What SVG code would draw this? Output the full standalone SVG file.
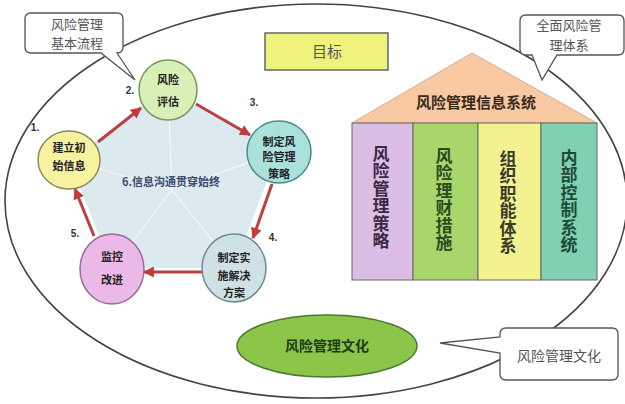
<svg xmlns="http://www.w3.org/2000/svg" width="625" height="404" viewBox="0 0 625 404">
<defs>
<style>
.cjk{font-family:"Noto Sans CJK SC","Noto Sans",sans-serif;}
.ct{font-size:11px;font-weight:bold;fill:#222;text-anchor:middle;}
.num{font-family:"Liberation Sans",sans-serif;font-size:10px;font-weight:bold;fill:#333;text-anchor:middle;}
.call{fill:#fff;stroke:#555;stroke-width:1.3;}
.callt{font-size:13px;fill:#555;text-anchor:middle;}
.col{stroke:#666;stroke-width:1;}
.colt{font-size:17px;font-weight:bold;writing-mode:vertical-rl;letter-spacing:0.5px;}
.arr{stroke:#b94141;stroke-width:3;fill:none;marker-end:url(#ah);}
</style>
<marker id="ah" viewBox="0 0 10 10" refX="9" refY="5" markerWidth="12" markerHeight="11" markerUnits="userSpaceOnUse" orient="auto">
<path d="M0,0 L10,5 L0,10 Z" fill="#c23b3b"/>
</marker>
</defs>
<rect width="625" height="404" fill="#fff"/>
<g id="boundary">
<ellipse cx="316" cy="201" rx="311" ry="197" fill="none" stroke="#444" stroke-width="1.6"/>
</g>
<g id="callout-process" class="cjk">
<path class="call" d="M31,13 H117 Q123,13 123,19 V47 Q123,53 117,53 L135,80 L101,53 H31 Q25,53 25,47 V19 Q25,13 31,13 Z"/>
<text class="callt" x="77" y="29">风险管理</text>
<text class="callt" x="77" y="48">基本流程</text>
</g>
<g id="callout-system" class="cjk">
<path class="call" d="M526,15 H618 Q624,15 624,21 V49 Q624,55 618,55 H557 L542,80 L532,55 H526 Q520,55 520,49 V21 Q520,15 526,15 Z"/>
<text class="callt" x="569" y="30">全面风险管</text>
<text class="callt" x="569" y="50">理体系</text>
</g>
<g id="callout-culture" class="cjk">
<path class="call" d="M506,328 H612 Q618,328 618,334 V374 Q618,380 612,380 H506 Q500,380 500,374 V353 L440,343 L500,337 V334 Q500,328 506,328 Z"/>
<text class="callt" x="559" y="361" style="font-size:14px">风险管理文化</text>
</g>
<g id="target" class="cjk">
<rect x="265" y="33" width="123" height="37" fill="#eef17c" stroke="#666" stroke-width="1.5"/>
<text x="327" y="57" font-size="15" fill="#555" text-anchor="middle">目标</text>
</g>
<g id="info-system" class="cjk">
<path d="M352,123 L472,53 L597,123 Z" fill="#f8c9a3" stroke="#c9a080" stroke-width="0.8"/>
<text x="476" y="108" font-size="15" font-weight="bold" fill="#3a2a1a" text-anchor="middle">风险管理信息系统</text>
</g>
<g id="pillar-strategy" class="cjk">
<rect class="col" x="352" y="123" width="61" height="157" fill="#dcbde6"/>
<text class="colt" fill="#3a2a45" x="381" y="145">风险管理策略</text>
</g>
<g id="pillar-finance" class="cjk">
<rect class="col" x="413" y="123" width="65" height="157" fill="#a9d66a"/>
<text class="colt" fill="#2a4a22" x="444" y="147">风险理财措施</text>
</g>
<g id="pillar-organization" class="cjk">
<rect class="col" x="478" y="123" width="63" height="157" fill="#f4f290"/>
<text class="colt" fill="#3a3a2a" x="508" y="150">组织职能体系</text>
</g>
<g id="pillar-control" class="cjk">
<rect class="col" x="541" y="123" width="56" height="157" fill="#80d0b2"/>
<text class="colt" fill="#1f4a3a" x="569" y="149">内部控制系统</text>
</g>
<g id="info-communication" class="cjk">
<polygon points="168,90 278,152 234,268 112,268 69,160" fill="#dceaef"/>
<g stroke="#f4f9fb" stroke-width="1.2">
<line x1="172" y1="190" x2="168" y2="90"/>
<line x1="172" y1="190" x2="278" y2="152"/>
<line x1="172" y1="190" x2="234" y2="268"/>
<line x1="172" y1="190" x2="112" y2="268"/>
<line x1="172" y1="190" x2="69" y2="160"/>
</g>
<text x="171" y="186" font-size="11" font-weight="bold" fill="#3a4a6e" text-anchor="middle">6.信息沟通贯穿始终</text>
</g>
<g id="connectors">
<line class="arr" x1="98" y1="142" x2="141" y2="108"/>
<line class="arr" x1="196" y1="104" x2="250" y2="135"/>
<line class="arr" x1="272" y1="184" x2="253" y2="238"/>
<line class="arr" x1="202" y1="272" x2="144" y2="272"/>
<line class="arr" x1="94" y1="236" x2="75" y2="189"/>
</g>
<g id="step-assess" class="cjk">
<ellipse cx="168" cy="90" rx="29" ry="30" fill="#d8efb8" stroke="#6f9a55" stroke-width="1.5"/>
<text class="ct" x="168" y="84">风险</text>
<text class="ct" x="168" y="106">评估</text>
<text class="num" x="130" y="94">2.</text>
</g>
<g id="step-init" class="cjk">
<ellipse cx="69" cy="160" rx="31" ry="29" fill="#f7f29f" stroke="#8a8a5a" stroke-width="1.5"/>
<text class="ct" x="69" y="152">建立初</text>
<text class="ct" x="69" y="170">始信息</text>
<text class="num" x="35" y="131">1.</text>
</g>
<g id="step-strategy" class="cjk">
<ellipse cx="279" cy="152" rx="32" ry="31" fill="#abe1db" stroke="#4a8a88" stroke-width="1.5"/>
<text class="ct" x="279" y="146">制定风</text>
<text class="ct" x="279" y="161">险管理</text>
<text class="ct" x="279" y="178">策略</text>
<text class="num" x="254" y="106">3.</text>
</g>
<g id="step-plan" class="cjk">
<ellipse cx="234" cy="268" rx="32" ry="34" fill="#cfe1e4" stroke="#6a8a90" stroke-width="1.5"/>
<text class="ct" x="234" y="262">制定实</text>
<text class="ct" x="234" y="280">施解决</text>
<text class="ct" x="234" y="297">方案</text>
<text class="num" x="273" y="241">4.</text>
</g>
<g id="step-monitor" class="cjk">
<ellipse cx="112" cy="269" rx="32" ry="35" fill="#ebb9e8" stroke="#9a6a9a" stroke-width="1.5"/>
<text class="ct" x="112" y="261">监控</text>
<text class="ct" x="112" y="284">改进</text>
<text class="num" x="75" y="237">5.</text>
</g>
<g id="culture" class="cjk">
<ellipse cx="327" cy="346" rx="90" ry="31" fill="#8bc54a" stroke="#4a7a30" stroke-width="1.5"/>
<text x="327" y="351" font-size="14" font-weight="bold" fill="#1e3a18" text-anchor="middle">风险管理文化</text>
</g>
</svg>
